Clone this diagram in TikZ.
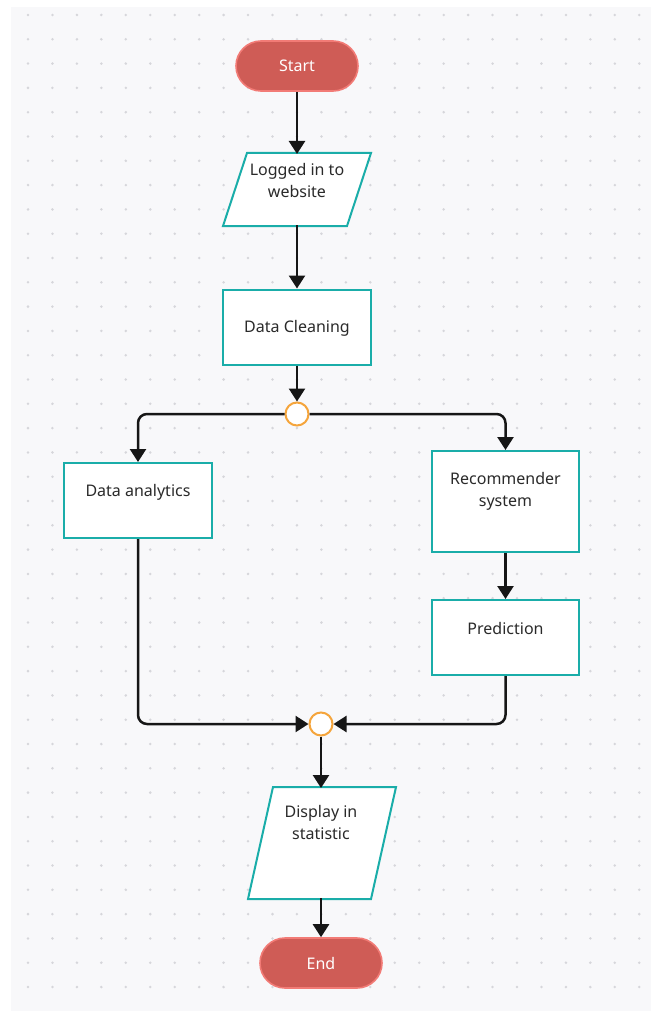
\documentclass[tikz,border=0pt]{standalone}
\usepackage{fontspec}
\setmainfont{Noto Sans}
\usetikzlibrary{arrows.meta}
\definecolor{bgc}{HTML}{F8F8FA}
\definecolor{dotc}{HTML}{D6D6DB}
\definecolor{tealc}{HTML}{1AADA9}
\definecolor{redf}{HTML}{CF5C56}
\definecolor{redb}{HTML}{F27B76}
\definecolor{orc}{HTML}{F5A53C}
\definecolor{linec}{HTML}{161616}
\definecolor{txtc}{HTML}{2A2A2A}
\tikzset{
  proc/.style={draw=tealc, line width=2pt, fill=white, rectangle, inner sep=0pt},
  parabox/.style={rectangle, inner sep=0pt, outer sep=0pt},
  paradraw/.style={draw=tealc, line width=2pt, fill=white, line join=miter},
  term/.style={draw=redb, fill=redf, line width=1.6pt, rectangle, rounded corners=25pt, minimum width=122pt, minimum height=50pt, text=white, font=\fontsize{16}{20}\selectfont},
  junc/.style={circle, draw=orc, line width=2pt, fill=white, minimum size=23pt, inner sep=0pt},
  lbl/.style={text=txtc, align=center, font=\fontsize{16}{22}\selectfont, inner sep=0pt},
  arr/.style={draw=linec, line width=2.5pt, -{Triangle[length=13pt,width=16pt]}, rounded corners=9pt},
}
\begin{document}
\begin{tikzpicture}[x=1pt,y=-1pt]
\useasboundingbox (0,0) rectangle (651,1011);
\fill[white] (0,0) rectangle (651,1011);
\fill[bgc] (11,7) rectangle (651,1011);
\foreach \i in {0,...,25} {
  \foreach \j in {0,...,40} {
    \fill[dotc] (28+24.45*\i, 15+24.3*\j) circle (1.4);
  }
}
% nodes
\node[term] (start) at (297,66) {Start};
\node[parabox, minimum width=148pt, minimum height=73pt] (login) at (297,189.5) {};
\draw[paradraw] ([xshift=24pt]login.north west) -- (login.north east) -- ([xshift=-24pt]login.south east) -- (login.south west) -- cycle;
\node[lbl] (loginT) at (297,180.5) {Logged in to\\website};
\node[proc, minimum width=148pt, minimum height=75pt] (clean) at (297,327) {};
\node[lbl] (cleanT) at (297,328.5) {Data Cleaning};
\node[junc] (j1) at (297,414) {};
\node[proc, minimum width=148pt, minimum height=75pt] (ana) at (138,500.5) {};
\node[lbl] (anaT) at (138,492.5) {Data analytics};
\node[proc, minimum width=147pt, minimum height=101pt] (rec) at (505.5,501.5) {};
\node[lbl] (recT) at (505.5,491.5) {Recommender\\system};
\node[proc, minimum width=147pt, minimum height=75pt] (pred) at (505.5,637.5) {};
\node[lbl] (predT) at (505.5,628.5) {Prediction};
\node[junc] (j2) at (321,724) {};
\node[parabox, minimum width=148pt, minimum height=112pt] (disp) at (322,843) {};
\draw[paradraw] ([xshift=25pt]disp.north west) -- (disp.north east) -- ([xshift=-25pt]disp.south east) -- (disp.south west) -- cycle;
\node[lbl] (dispT) at (321,822.5) {Display in\\statistic};
\node[term] (end) at (321,963) {End};
% connectors
\draw[arr] (start.south) -- ([yshift=-1pt]login.north);
\draw[arr] ([yshift=1pt]login.south) -- (clean.north);
\draw[arr] (clean.south) -- (j1.north);
\draw[arr] (j1.west) -| (ana.north);
\draw[arr] (j1.east) -| (rec.north);
\draw[arr] (rec.south) -- (pred.north);
\draw[arr] (ana.south) |- (j2.west);
\draw[arr] (pred.south) |- (j2.east);
\draw[arr] (j2.south) -- ([yshift=-1pt]j2.south |- disp.north);
\draw[arr] ([yshift=1pt]disp.south -| end.north) -- (end.north);
\end{tikzpicture}
\end{document}
